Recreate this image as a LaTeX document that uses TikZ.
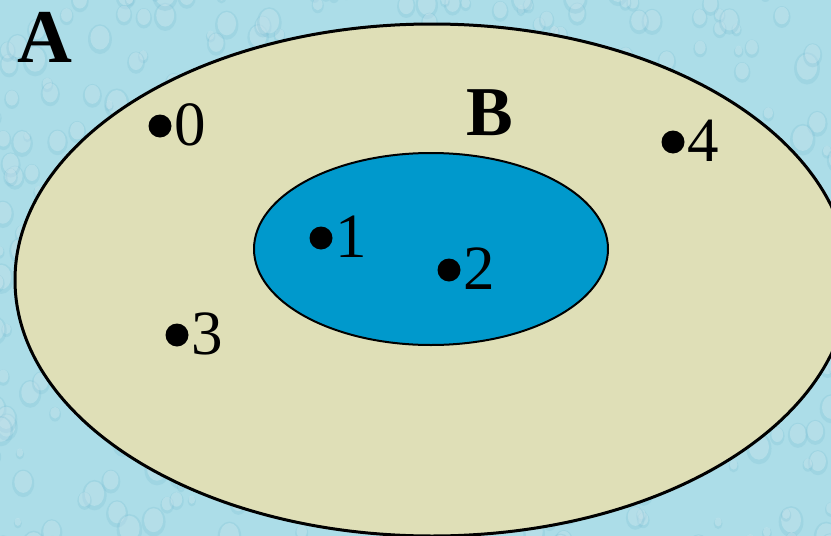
\documentclass[tikz,border=0pt]{standalone}
\usepackage{fontspec}
\setmainfont{Liberation Serif}
\usetikzlibrary{shapes.geometric}
\definecolor{bgcyan}{RGB}{172,221,232}
\definecolor{dropdark}{RGB}{115,185,208}
\definecolor{setA}{RGB}{223,223,183}
\definecolor{setB}{RGB}{0,153,204}
\tikzset{
  setshape/.style={ellipse, draw=black, inner sep=0pt},
  dotpt/.style={circle, fill=black, inner sep=0pt, minimum size=23pt},
  num/.style={anchor=base west, inner sep=0pt, font=\fontsize{63}{70}\selectfont},
  setname/.style={anchor=base west, inner sep=0pt, font=\bfseries}
}
\begin{document}
\begin{tikzpicture}[x=1pt,y=-1pt]
  \useasboundingbox (0,0) rectangle (831,536);
  \fill[bgcyan] (0,0) rectangle (831,536);
  \pgfmathsetseed{11}
  \begin{scope}
    \clip (0,0) rectangle (831,536);
    \foreach \i in {1,...,520}{
      \pgfmathsetmacro{\px}{rnd*850-10}
      \pgfmathsetmacro{\py}{rnd*560-10}
      \pgfmathsetmacro{\rr}{4+rnd*9}
      \fill[dropdark, opacity=0.22] (\px,\py+1.5) ellipse [x radius=\rr, y radius=\rr*1.25];
      \fill[white, opacity=0.22] (\px,\py) ellipse [x radius=\rr*0.8, y radius=\rr];
    }
  \end{scope}
  % sets
  \node[setshape, fill=setA, line width=3pt, minimum width=834pt, minimum height=512pt] (A) at (432,280) {};
  \node[setshape, fill=setB, line width=2pt, minimum width=354pt, minimum height=192pt] (B) at (431,249) {};
  % set names
  \node[setname, font=\bfseries\fontsize{76}{80}\selectfont] (la) at (17,62) {A};
  \node[setname, font=\bfseries\fontsize{70}{76}\selectfont] (lb) at (466,135) {B};
  % elements
  \node[dotpt] (p0) at (160,126) {};
  \node[num] (n0) at (174,145.5) {0};
  \node[dotpt] (p4) at (673,142) {};
  \node[num] (n4) at (687,161.5) {4};
  \node[dotpt] (p1) at (321,238) {};
  \node[num] (n1) at (335,257.5) {1};
  \node[dotpt] (p2) at (449,270) {};
  \node[num] (n2) at (463,289.5) {2};
  \node[dotpt] (p3) at (177,335) {};
  \node[num] (n3) at (191,354.5) {3};
\end{tikzpicture}
\end{document}
